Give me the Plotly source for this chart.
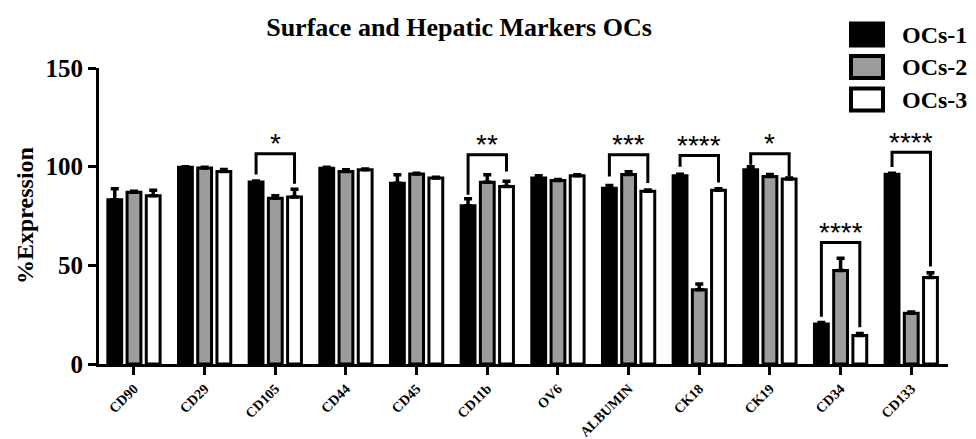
import plotly.graph_objects as go

categories = ["CD90", "CD29", "CD105", "CD44", "CD45", "CD11b", "OV6",
              "ALBUMIN", "CK18", "CK19", "CD34", "CD133"]
series_names = ["OCs-1", "OCs-2", "OCs-3"]

ocs1 = [83.2, 99.7, 92.2, 99.2, 91.6, 80.2, 94.2, 89.1, 95.4, 98.5, 20.3, 96.2]
ocs1_err = [5.6, 0.3, 0.5, 0.5, 4.3, 3.6, 1.2, 1.3, 0.8, 1.5, 0.7, 0.5]
ocs2 = [87.0, 99.3, 84.0, 97.6, 96.3, 92.1, 93.0, 96.0, 37.6, 95.0, 47.4, 25.7]
ocs2_err = [0.5, 0.4, 1.2, 0.8, 0.4, 3.8, 0.5, 1.4, 2.9, 1.0, 6.2, 0.6]
ocs3 = [85.3, 97.6, 84.6, 98.4, 94.2, 90.0, 95.4, 87.5, 88.0, 93.7, 14.4, 43.8]
ocs3_err = [2.8, 1.0, 4.0, 0.4, 0.5, 2.6, 0.5, 0.7, 0.8, 0.6, 1.0, 2.5]

# significance brackets: category, label, bracket top, left leg end, right leg end
sig_cats = ["CD105", "CD11b", "ALBUMIN", "CK18", "CK19", "CD34", "CD133"]
sig_labels = ["*", "**", "***", "****", "*", "****", "****"]
sig_top = [106.6, 106.0, 106.0, 105.6, 106.6, 61.6, 107.3]
sig_left = [96.0, 85.8, 95.0, 100.0, 101.0, 24.0, 99.8]
sig_right = [91.4, 97.6, 91.7, 92.0, 95.0, 18.6, 49.4]

y_ticks = [0, 50, 100, 150]

W, H = 976, 439
L, R, T, B = 99, 28, 68, 75
BARGAP = 0.184
SLOT = (1 - BARGAP) / 3

fills = ["#000000", "#9c9c9c", "#ffffff"]
values = [ocs1, ocs2, ocs3]
errors = [ocs1_err, ocs2_err, ocs3_err]
xs = list(range(len(categories)))

serif = "Liberation Serif"

fig = go.Figure()
for name, v, e, c in zip(series_names, values, errors, fills):
    fig.add_trace(go.Bar(
        x=xs, y=v, name=name,
        marker=dict(color=c, line=dict(color="black", width=3)),
        error_y=dict(type="data", array=e, arrayminus=[0] * len(e),
                     symmetric=False, color="black", thickness=3.5, width=4),
        showlegend=False,
    ))

shapes = []
annotations = []
for cat, lab, top, lb, rb in zip(sig_cats, sig_labels, sig_top, sig_left, sig_right):
    i = categories.index(cat)
    x0, x1 = i - SLOT, i + SLOT
    shapes.append(dict(type="path", xref="x", yref="y",
                       path=f"M {x0} {lb} L {x0} {top} L {x1} {top} L {x1} {rb}",
                       line=dict(color="black", width=3)))
    annotations.append(dict(x=i, y=top + 5.2, xref="x", yref="y", text=lab,
                            showarrow=False, yanchor="middle",
                            font=dict(family="Liberation Sans", size=28, color="black")))

# legend drawn manually
def px_x(p):
    return (p - L) / (W - L - R)

def px_y(p):
    return (H - B - p) / (H - T - B)

leg_rows = [34.5, 67, 99.5]
for name, c, yc in zip(series_names, fills, leg_rows):
    shapes.append(dict(type="rect", xref="paper", yref="paper",
                       x0=px_x(851), x1=px_x(883), y0=px_y(yc + 11), y1=px_y(yc - 11),
                       fillcolor=c, line=dict(color="black", width=4)))
    annotations.append(dict(x=px_x(900), y=px_y(yc), xref="paper", yref="paper",
                            text=name, showarrow=False, xanchor="left", yanchor="middle",
                            font=dict(family=serif, size=24, color="black", weight="bold")))

annotations.append(dict(x=px_x(25), y=0.5, xref="paper", yref="paper", text="%Expression",
                        textangle=-90, showarrow=False, xanchor="center", yanchor="middle",
                        font=dict(family=serif, size=24, color="black", weight="bold")))

fig.update_layout(
    width=W, height=H,
    margin=dict(l=L, r=R, t=T, b=B),
    paper_bgcolor="white", plot_bgcolor="white",
    barmode="group", bargap=BARGAP, bargroupgap=0.28,
    title=dict(text="Surface and Hepatic Markers OCs", x=459 / W, xanchor="center",
               y=1 - 27 / H, yanchor="middle", automargin=False,
               font=dict(family=serif, size=26, color="black", weight="bold")),
    shapes=shapes, annotations=annotations,
)
fig.update_xaxes(range=[-0.495, 11.52], tickmode="array", tickvals=xs, ticktext=categories,
                 tickangle=-45, showline=True, linecolor="black", linewidth=3,
                 ticks="outside", ticklen=8, tickwidth=3, tickcolor="black",
                 showgrid=False, zeroline=False, automargin=False,
                 tickfont=dict(family=serif, size=14, color="black", weight="bold"))
fig.update_yaxes(range=[0, 150], tickmode="array", tickvals=y_ticks,
                 showline=True, linecolor="black", linewidth=3,
                 ticks="outside", ticklen=8, tickwidth=3, tickcolor="black",
                 showgrid=False, zeroline=False, automargin=False,
                 tickfont=dict(family=serif, size=25, color="black", weight="bold"))

fig.write_html("out.html", config={"displayModeBar": False},
               post_script="document.body.style.margin='0';document.body.style.overflow='hidden';")
